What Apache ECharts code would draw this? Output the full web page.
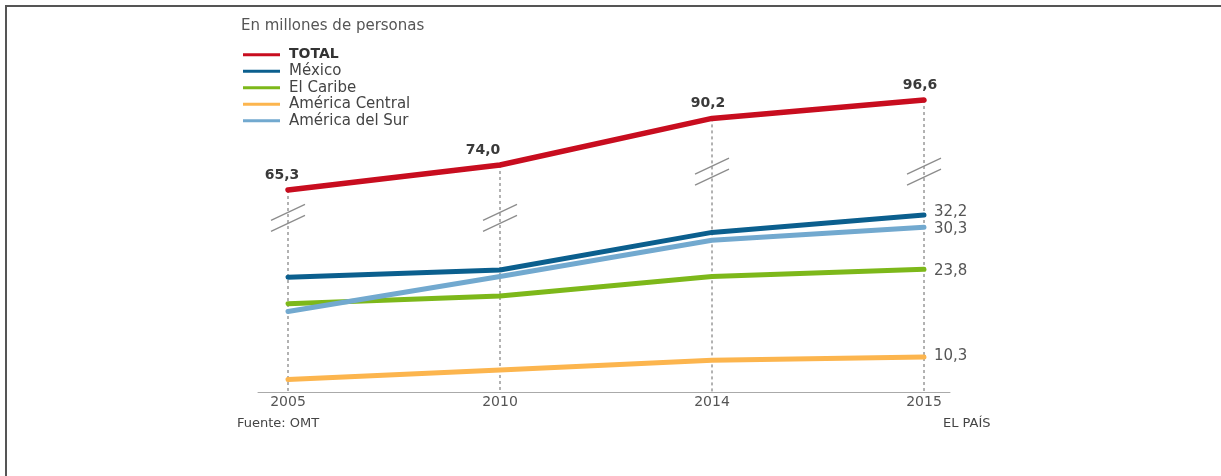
<!DOCTYPE html>
<html>
<head>
<meta charset="utf-8">
<script src="https://cdn.jsdelivr.net/npm/echarts@6/dist/echarts.min.js"></script>
<style>
  html, body { margin: 0; padding: 0; background: #fff; }
  #chart { width: 1221px; height: 476px; }
</style>
</head>
<body>
<div id="chart"></div>
<script>
// Llegadas de turistas internacionales a América Latina (millones de personas)
const years = ['2005', '2010', '2014', '2015'];
const total = [65.3, 74.0, 90.2, 96.6];
const mexico = [22.6, 23.7, 29.5, 32.2];
const caribe = [18.5, 19.7, 22.7, 23.8];
const central = [6.8, 8.3, 9.8, 10.3];
const sur = [17.3, 22.7, 28.3, 30.3];

const FONT = 'DejaVu Sans';
const fmt = v => v.toFixed(1).replace('.', ',');
const idx = arr => arr.map((v, i) => [i, v]);

const chart = echarts.init(document.getElementById('chart'), null, { renderer: 'canvas' });

// Serie regional con etiqueta del último valor a la derecha
function regional(name, values, color, labelDy) {
  return {
    name, type: 'line', data: idx(values), yAxisIndex: 0,
    symbol: 'circle', symbolSize: 4, showSymbol: false,
    lineStyle: { color, width: 5, cap: 'round', join: 'round' },
    itemStyle: { color },
    endLabel: {
      show: true, distance: 10, offset: [0, labelDy || 0],
      color: '#555', fontFamily: FONT, fontSize: 15,
      formatter: p => fmt(p.value[1])
    },
    emphasis: { disabled: true }, z: 3
  };
}

// Posición vertical de las marcas de corte de escala (en la escala del total)
const breakAt = [55.6, 55.6, 71.7, 71.7];
// Desplazamiento horizontal de las etiquetas del total
const totalShift = [-6, -17, -4, -4];

chart.setOption({
  animation: false,
  textStyle: { fontFamily: FONT },
  title: [
    { text: 'En millones de personas', left: 241, top: 19, padding: 0,
      textStyle: { fontFamily: FONT, fontSize: 15, fontWeight: 'normal', color: '#555' } },
    { text: 'Fuente: OMT', left: 237, top: 417, padding: 0,
      textStyle: { fontFamily: FONT, fontSize: 13, fontWeight: 'normal', color: '#444' } },
    { text: 'EL PAÍS', left: 943, top: 417, padding: 0,
      textStyle: { fontFamily: FONT, fontSize: 13, fontWeight: 'normal', color: '#444' } }
  ],
  legend: {
    orient: 'vertical', left: 243, top: 46.5, padding: 0,
    data: ['TOTAL', 'México', 'El Caribe', 'América Central', 'América del Sur'],
    icon: 'rect', itemWidth: 37, itemHeight: 3, itemGap: 0,
    selectedMode: false,
    textStyle: {
      fontFamily: FONT, fontSize: 15, color: '#444', lineHeight: 16.5,
      padding: [0, 0, 0, 4],
      rich: { b: { fontFamily: FONT, fontSize: 14, fontWeight: 'bold', color: '#333', lineHeight: 16.5 } }
    },
    formatter: n => n === 'TOTAL' ? '{b|TOTAL}' : n
  },
  graphic: [{
    type: 'polyline', silent: true,
    shape: { points: [[6, 476], [6, 6], [1221, 6]] },
    style: { stroke: '#555', lineWidth: 2, fill: null }
  }],
  grid: { left: 258, right: 271, top: 80, bottom: 84, containLabel: false, outerBoundsMode: 'none' },
  xAxis: {
    type: 'value', min: -0.1415, max: 3.1226,
    axisLine: { show: true, onZero: false, lineStyle: { color: '#aaa', width: 1 } },
    axisTick: { show: false },
    splitLine: { show: false },
    axisLabel: {
      customValues: [0, 1, 2, 3], margin: 3,
      formatter: v => years[Math.round(v)] || '',
      fontFamily: FONT, fontSize: 14, color: '#555'
    }
  },
  yAxis: [
    { type: 'value', min: 4.89, max: 53.0, show: false, splitLine: { show: false } },
    { type: 'value', min: -4.96, max: 103.56, show: false, splitLine: { show: false } }
  ],
  series: [
    {
      name: 'guías', type: 'custom', yAxisIndex: 1, silent: true, z: 1,
      data: idx(total),
      renderItem(params, api) {
        const p = api.coord([api.value(0), api.value(1)]);
        const bottom = params.coordSys.y + params.coordSys.height;
        return {
          type: 'line',
          shape: { x1: p[0], y1: p[1], x2: p[0], y2: bottom },
          style: { stroke: '#666', lineWidth: 1, lineDash: [3, 3] }
        };
      }
    },
    {
      name: 'cortes', type: 'custom', yAxisIndex: 1, silent: true, z: 2,
      data: idx(breakAt),
      renderItem(params, api) {
        const p = api.coord([api.value(0), api.value(1)]);
        const mk = dy => ({
          type: 'line',
          shape: { x1: p[0] - 17, y1: p[1] + dy + 8, x2: p[0] + 17, y2: p[1] + dy - 8 },
          style: { stroke: '#8c8c8c', lineWidth: 1.2 }
        });
        return { type: 'group', children: [mk(-5.5), mk(5.5)] };
      }
    },
    regional('América Central', central, '#fcb54e', -1),
    regional('El Caribe', caribe, '#7db81a', 2),
    regional('América del Sur', sur, '#72a9cf', 1.5),
    regional('México', mexico, '#0b5f8e', -3),
    {
      name: 'TOTAL', type: 'line', yAxisIndex: 1,
      data: total.map((v, i) => ({
        value: [i, v],
        label: { offset: [totalShift[i], 0] }
      })),
      symbol: 'circle', symbolSize: 4, showSymbol: true,
      lineStyle: { color: '#c80d1f', width: 5.5, cap: 'round', join: 'round' },
      itemStyle: { color: '#c80d1f' },
      label: {
        show: true, position: 'top', distance: 6,
        fontFamily: FONT, fontSize: 14, fontWeight: 'bold', color: '#3a3a3a',
        formatter: p => fmt(p.value[1])
      },
      emphasis: { disabled: true }, z: 4
    }
  ]
});
</script>
</body>
</html>
